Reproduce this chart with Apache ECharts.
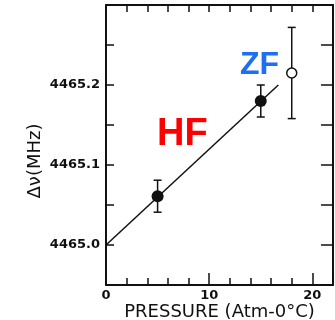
<!DOCTYPE html>
<html>
<head>
<meta charset="utf-8">
<script src="https://cdn.jsdelivr.net/npm/echarts@6/dist/echarts.min.js"></script>
<style>
  html, body { margin: 0; padding: 0; background: #fff; }
  #chart { width: 335px; height: 320px; }
</style>
</head>
<body>
<div id="chart"></div>
<script>
// HF points (filled) with error bars
const hfPressure = [5, 15];
const hfShift = [4465.061, 4465.180];
const hfErr = [0.02, 0.02];
// ZF point (open)
const zfPressure = [18];
const zfShift = [4465.215];
const zfErr = [0.057];
// fitted line
const fitPressure = [0, 16.7];
const fitShift = [4465.0, 4465.2];
// labelled ticks
const xTickLabels = ['0', '10', '20'];
const yTickLabels = ['4465.0', '4465.1', '4465.2'];

const ink = '#111';

function errorBar(params, api) {
  const x = api.value(0);
  const y = api.value(1);
  const e = api.value(2);
  const top = api.coord([x, y + e]);
  const bot = api.coord([x, y - e]);
  const w = 4;
  const style = { stroke: ink, lineWidth: 1.5 };
  return {
    type: 'group',
    children: [
      { type: 'line', shape: { x1: top[0], y1: top[1], x2: bot[0], y2: bot[1] }, style },
      { type: 'line', shape: { x1: top[0] - w, y1: top[1], x2: top[0] + w, y2: top[1] }, style },
      { type: 'line', shape: { x1: bot[0] - w, y1: bot[1], x2: bot[0] + w, y2: bot[1] }, style },
    ],
  };
}

const frame = { show: true, onZero: false, lineStyle: { color: ink, width: 2 } };

const chart = echarts.init(document.getElementById('chart'));
const option = {
  animation: false,
  grid: { left: 106, right: 2, top: 5, bottom: 35, containLabel: false, outerBoundsMode: 'none' },
  xAxis: [
    {
      type: 'value', min: 0, max: 22, interval: 2, position: 'bottom',
      axisLine: frame,
      axisTick: { show: true, inside: true, length: 7, lineStyle: { color: ink, width: 1.5 } },
      axisLabel: {
        color: ink, fontSize: 13, fontWeight: 'bold', fontFamily: 'DejaVu Sans', margin: 4,
        formatter: (v) => (xTickLabels.includes(String(v)) ? String(v) : ''),
      },
      splitLine: { show: false },
      name: 'PRESSURE (Atm-0°C)', nameLocation: 'middle', nameGap: 18, nameMoveOverlap: false,
      nameTextStyle: { color: ink, fontSize: 18, fontFamily: 'DejaVu Sans' },
    },
    {
      type: 'value', min: 0, max: 22, interval: 10, position: 'bottom',
      axisLine: { show: false, onZero: false },
      axisTick: { show: true, inside: true, length: 12, lineStyle: { color: ink, width: 1.5 } },
      axisLabel: { show: false }, splitLine: { show: false },
    },
    {
      type: 'value', min: 0, max: 22, interval: 2, position: 'top',
      axisLine: frame,
      axisTick: { show: true, inside: true, length: 7, lineStyle: { color: ink, width: 1.5 } },
      axisLabel: { show: false }, splitLine: { show: false },
    },
  ],
  yAxis: [
    {
      type: 'value', min: 4464.95, max: 4465.3, interval: 0.05, position: 'left',
      axisLine: frame,
      axisTick: { show: true, inside: true, length: 8, lineStyle: { color: ink, width: 1.5 } },
      axisLabel: {
        color: ink, fontSize: 13, fontWeight: 'bold', fontFamily: 'DejaVu Sans', margin: 6,
        formatter: (v) => {
          const r = Math.round(v * 100);
          if (r % 10 !== 0) return '';
          const s = (r / 100).toFixed(1);
          return yTickLabels.includes(s) ? s : '';
        },
      },
      splitLine: { show: false },
      name: 'Δν(MHz)', nameLocation: 'middle', nameGap: 62, nameRotate: 90, nameMoveOverlap: false,
      nameTextStyle: { color: ink, fontSize: 18, fontFamily: 'DejaVu Sans', padding: [0, 32, 0, 0] },
    },
    {
      type: 'value', min: 4464.95, max: 4465.3, interval: 0.05, position: 'right',
      axisLine: frame,
      axisTick: { show: true, inside: true, length: 12, lineStyle: { color: ink, width: 1.5 } },
      axisLabel: { show: false }, splitLine: { show: false },
    },
  ],
  series: [
    {
      name: 'fit', type: 'line', xAxisIndex: 0, yAxisIndex: 0,
      data: fitPressure.map((p, i) => [p, fitShift[i]]),
      symbol: 'none', lineStyle: { color: ink, width: 1.5 }, z: 2,
    },
    {
      name: 'HF err', type: 'custom', xAxisIndex: 0, yAxisIndex: 0,
      renderItem: errorBar,
      data: hfPressure.map((p, i) => [p, hfShift[i], hfErr[i]]), z: 3,
    },
    {
      name: 'ZF err', type: 'custom', xAxisIndex: 0, yAxisIndex: 0,
      renderItem: errorBar,
      data: zfPressure.map((p, i) => [p, zfShift[i], zfErr[i]]), z: 3,
    },
    {
      name: 'HF', type: 'scatter', xAxisIndex: 0, yAxisIndex: 0,
      data: hfPressure.map((p, i) => [p, hfShift[i]]),
      symbolSize: 12, itemStyle: { color: ink, opacity: 1 }, z: 4,
    },
    {
      name: 'ZF', type: 'scatter', xAxisIndex: 0, yAxisIndex: 0,
      data: zfPressure.map((p, i) => [p, zfShift[i]]),
      symbolSize: 10, itemStyle: { color: '#fff', borderColor: ink, borderWidth: 1.5, opacity: 1 }, z: 4,
    },
  ],
  graphic: [
    {
      type: 'text', left: 157, top: 116, z: 10,
      style: { text: 'HF', fill: '#ff0000', font: 'bold 38px "Liberation Sans", Arial, sans-serif' },
    },
    {
      type: 'text', left: 240, top: 49, z: 10,
      style: { text: 'ZF', fill: '#1f6ff5', font: 'bold 32px "Liberation Sans", Arial, sans-serif' },
    },
  ],
};
chart.setOption(option);
</script>
</body>
</html>
